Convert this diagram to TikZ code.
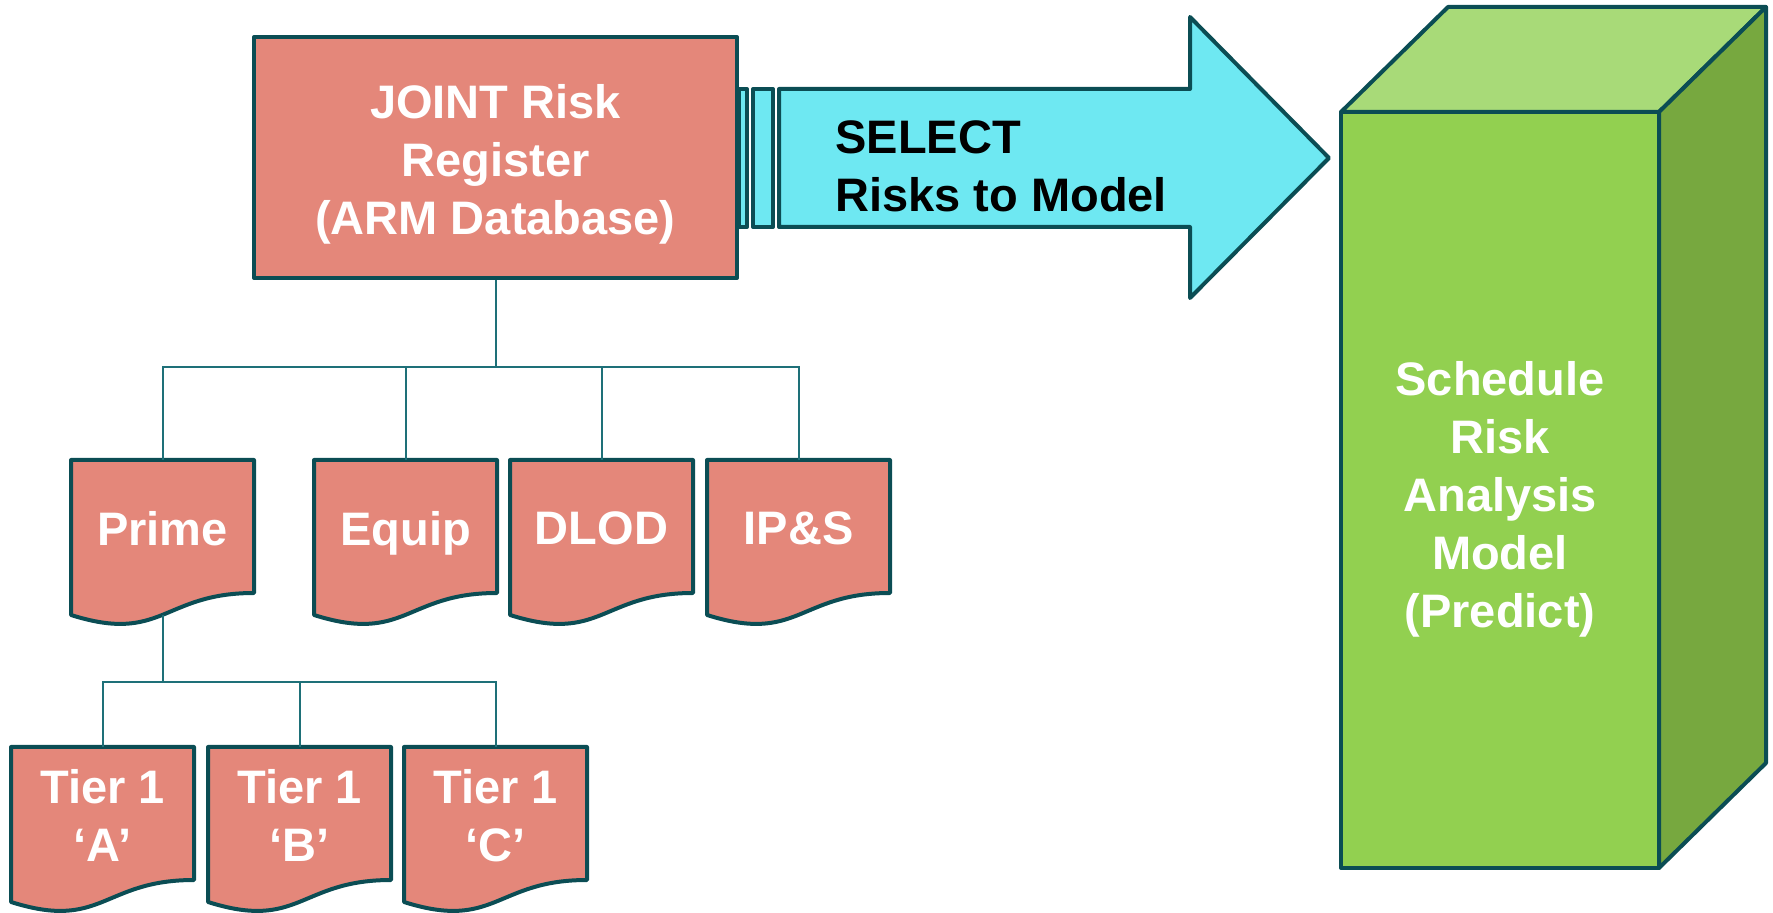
\documentclass[tikz,border=0pt]{standalone}
\usepackage{fontspec}
\setmainfont{Liberation Sans}
\definecolor{salmon}{HTML}{E4877A}
\definecolor{edge}{HTML}{0B4D54}
\definecolor{wire}{HTML}{1E7078}
\definecolor{cyanfill}{HTML}{6EE8F2}
\definecolor{gfront}{HTML}{92D050}
\definecolor{gtop}{HTML}{A8DA78}
\definecolor{gside}{HTML}{77A83F}
\tikzset{
  outline/.style={draw=edge, line width=2pt, line join=round},
  conn/.style={draw=wire, line width=1pt},
  docnode/.style={inner sep=0pt, minimum width=91.5pt, minimum height=77.5pt},
  lbl/.style={inner sep=0pt, align=center, text=white, font=\bfseries\fontsize{23.5}{29}\selectfont},
}
\newcommand{\docbox}[4]{%
  \begin{scope}[shift={(#2,#3)}]
    \filldraw[outline, fill=salmon] (0,0) -- (183,0) -- (183,133) .. controls (91.5,133) and (91.5,184) .. (0,155) -- cycle;
    \node[docnode] (#1) at (91.5,77.5) {};
    \node[lbl, text depth=0pt] (#1-t) at (91.5,68.5) {#4};
  \end{scope}}
\begin{document}
\begin{tikzpicture}[x=0.5pt,y=-0.5pt]
\useasboundingbox (0,0) rectangle (1773,913);
% striped arrow
\filldraw[outline, fill=cyanfill] (739,89) rectangle (747,227);
\filldraw[outline, fill=cyanfill] (753,89) rectangle (773,227);
\filldraw[outline, fill=cyanfill] (779,89) -- (1190,89) -- (1190,17) -- (1329,158) -- (1190,298) -- (1190,227) -- (779,227) -- cycle;
\node[lbl, text=black, align=left, anchor=west] (sel) at (835,166) {SELECT\\Risks to Model};
% main register box
\node[outline, fill=salmon, minimum width=241.5pt, minimum height=120.5pt, inner sep=0pt] (reg) at (495.5,157.5) {};
\node[lbl] (reg-t) at (495.5,164) {JOINT Risk\\Register\\(ARM Database)};
% document boxes
\docbox{prime}{71}{460}{Prime}
\docbox{equip}{314}{460}{Equip}
\docbox{dlod}{510}{460}{DLOD}
\docbox{ips}{707}{460}{IP\&S}
\docbox{tA}{11}{747}{Tier 1\\‘A’}
\docbox{tB}{208}{747}{Tier 1\\‘B’}
\docbox{tC}{404}{747}{Tier 1\\‘C’}
% connectors
\coordinate (bus1) at (495.5,367);
\coordinate (bus2) at (162.5,682);
\draw[conn] (reg.south) -- (bus1);
\draw[conn] (prime.north) |- (bus1);
\draw[conn] (equip.north) |- (bus1);
\draw[conn] (dlod.north) |- (bus1);
\draw[conn] (ips.north) |- (bus1);
\draw[conn] (prime.south) -- (bus2);
\draw[conn] (tA.north) |- (bus2);
\draw[conn] (tB.north) |- (bus2);
\draw[conn] (tC.north) |- (bus2);
% cuboid
\filldraw[outline, fill=gtop] (1341,112) -- (1448,7) -- (1766,7) -- (1659,112) -- cycle;
\filldraw[outline, fill=gside] (1659,112) -- (1766,7) -- (1766,763) -- (1659,868) -- cycle;
\filldraw[outline, fill=gfront] (1341,112) rectangle (1659,868);
\node[lbl] (srm) at (1500,499) {Schedule\\Risk\\Analysis\\Model\\(Predict)};
\end{tikzpicture}
\end{document}
